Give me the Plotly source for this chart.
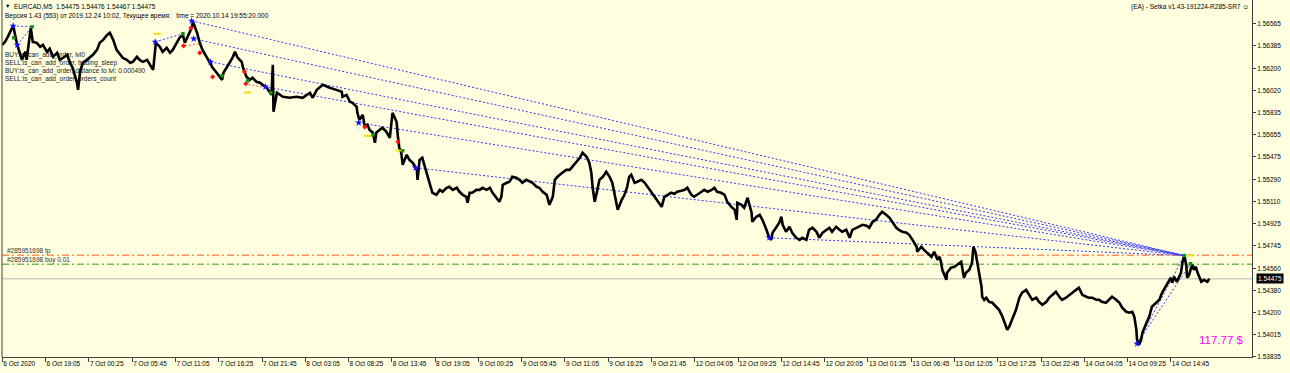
import plotly.graph_objects as go

# ---------------- data ----------------
# bar index (M5 bars from the first visible bar) and price of the traced path
bars = [
    0, 4, 8, 16, 22, 26, 29, 34, 36, 42,
    45, 51, 56, 60, 66, 70, 75, 81, 85, 90,
    96, 100, 104, 110, 112, 115, 119, 125, 130, 134,
    140, 144, 149, 155, 159, 164, 169, 174, 178, 184,
    189, 193, 199, 203, 208, 214, 218, 223, 226, 227,
    233, 237, 243, 248, 252, 258, 262, 267, 270, 274,
    280, 282, 288, 292, 296, 302, 307, 311, 317, 322,
    325, 327, 332, 336, 341, 344, 348, 354, 356, 361,
    366, 370, 376, 381, 385, 391, 395, 398, 400, 401,
    406, 415, 425, 435, 444, 455, 459, 465, 474, 484,
    494, 502, 503, 509, 514, 518, 524, 525, 528, 533,
    536, 540, 543, 548, 551, 553, 558, 562, 568, 573,
    577, 583, 585, 587, 590, 592, 598, 602, 607, 613,
    614, 617, 621, 627, 632, 636, 642, 647, 651, 657,
    661, 666, 672, 676, 681, 686, 688, 691, 695, 701,
    706, 710, 716, 721, 725, 731, 735, 738, 740, 746,
    750, 754, 760, 765, 769, 775, 780, 784, 790, 794,
    799, 805, 809, 814, 817, 821, 828, 834, 839, 843,
    849, 854, 858, 864, 868, 871, 873, 876, 879, 883,
    888, 893, 898, 902, 905, 910, 916, 920, 924, 927,
    930, 935, 939, 945, 950, 954, 960, 964, 969, 975,
    979, 984, 989, 994, 998, 1004, 1009, 1013, 1019, 1023,
    1028, 1034, 1038, 1043, 1049, 1053, 1057, 1063, 1068, 1072,
    1078, 1083, 1086, 1087, 1093, 1097, 1102, 1105, 1108, 1109,
    1115, 1120, 1124, 1130, 1134, 1137, 1139, 1145, 1149, 1152,
    1154, 1159, 1164, 1168, 1174, 1179, 1183, 1189, 1193, 1198,
    1204, 1208, 1213, 1219, 1223, 1227, 1233, 1238, 1242, 1248,
    1253, 1257, 1263, 1267, 1272, 1278, 1282, 1287, 1292, 1297,
    1301, 1307, 1312, 1316, 1322, 1326, 1331, 1337, 1341, 1346,
    1352, 1353, 1359, 1363, 1368, 1374, 1378, 1383, 1386, 1388,
    1390, 1393, 1396, 1397, 1403, 1408, 1412, 1418, 1420, 1422,
    1425, 1430, 1434, 1436, 1439, 1442, 1445, 1448, 1449, 1452,
    1455, 1459, 1464, 1470, 1474, 1479, 1485, 1486, 1489, 1493,
    1499, 1504, 1508, 1514, 1519, 1523, 1529, 1533, 1538, 1544,
    1548, 1553, 1558, 1563, 1567, 1573, 1578, 1582, 1588, 1592,
    1597, 1603, 1607, 1612, 1618, 1622, 1626, 1632, 1637, 1641,
    1647, 1652, 1656, 1662, 1666, 1671, 1674, 1677, 1678, 1681,
    1684, 1686, 1692, 1696, 1700, 1706, 1711, 1715, 1721, 1726,
    1728, 1730, 1733, 1737, 1743, 1745, 1748, 1751, 1752, 1755,
    1758, 1760, 1762, 1765, 1767, 1770, 1773, 1777, 1782, 1785,
]
prices = [
    1.56393, 1.56418, 1.56459, 1.56549, 1.56393, 1.56328, 1.56270, 1.56336, 1.56270, 1.56533,
    1.56418, 1.56410, 1.56377, 1.56393, 1.56336, 1.56361, 1.56295, 1.56328, 1.56270, 1.56287,
    1.56311, 1.56246, 1.56205, 1.56090, 1.56024, 1.56172, 1.56246, 1.56270, 1.56295, 1.56311,
    1.56352, 1.56410, 1.56434, 1.56475, 1.56492, 1.56434, 1.56352, 1.56311, 1.56287, 1.56270,
    1.56246, 1.56254, 1.56295, 1.56270, 1.56254, 1.56270, 1.56229, 1.56188, 1.56352, 1.56410,
    1.56377, 1.56336, 1.56369, 1.56328, 1.56352, 1.56410, 1.56451, 1.56475, 1.56410, 1.56459,
    1.56533, 1.56582, 1.56492, 1.56410, 1.56352, 1.56295, 1.56246, 1.56205, 1.56164, 1.56131,
    1.56106, 1.56164, 1.56205, 1.56246, 1.56295, 1.56336, 1.56287, 1.56254, 1.56205, 1.56131,
    1.56106, 1.56123, 1.56090, 1.56082, 1.56065, 1.56041, 1.56008, 1.55983, 1.56229, 1.55844,
    1.56000, 1.55967, 1.55959, 1.55967, 1.55959, 1.56000, 1.55959, 1.56024, 1.56065, 1.56041,
    1.56024, 1.56008, 1.55967, 1.55983, 1.55926, 1.55918, 1.55885, 1.55836, 1.55778, 1.55819,
    1.55721, 1.55737, 1.55696, 1.55672, 1.55590, 1.55672, 1.55696, 1.55713, 1.55680, 1.55631,
    1.55836, 1.55762, 1.55639, 1.55549, 1.55508, 1.55409, 1.55491, 1.55450, 1.55426, 1.55368,
    1.55286, 1.55450, 1.55467, 1.55344, 1.55245, 1.55180, 1.55163, 1.55204, 1.55188, 1.55221,
    1.55229, 1.55204, 1.55221, 1.55188, 1.55163, 1.55147, 1.55098, 1.55180, 1.55180, 1.55204,
    1.55204, 1.55221, 1.55204, 1.55221, 1.55180, 1.55139, 1.55106, 1.55147, 1.55245, 1.55262,
    1.55270, 1.55311, 1.55303, 1.55286, 1.55262, 1.55286, 1.55270, 1.55262, 1.55229, 1.55221,
    1.55188, 1.55163, 1.55081, 1.55147, 1.55286, 1.55311, 1.55344, 1.55368, 1.55368, 1.55393,
    1.55434, 1.55467, 1.55508, 1.55475, 1.55426, 1.55344, 1.55221, 1.55106, 1.55180, 1.55286,
    1.55311, 1.55352, 1.55311, 1.55262, 1.55180, 1.55040, 1.55122, 1.55163, 1.55229, 1.55311,
    1.55327, 1.55262, 1.55270, 1.55286, 1.55262, 1.55229, 1.55188, 1.55147, 1.55106, 1.55065,
    1.55147, 1.55163, 1.55180, 1.55172, 1.55188, 1.55196, 1.55204, 1.55221, 1.55163, 1.55147,
    1.55163, 1.55188, 1.55204, 1.55188, 1.55204, 1.55221, 1.55188, 1.55180, 1.55163, 1.55106,
    1.55065, 1.55040, 1.54958, 1.55098, 1.55081, 1.55057, 1.55139, 1.55081, 1.55016, 1.54942,
    1.54983, 1.54999, 1.54958, 1.54876, 1.54811, 1.54794, 1.54852, 1.54901, 1.54934, 1.54983,
    1.54917, 1.54860, 1.54901, 1.54852, 1.54811, 1.54794, 1.54811, 1.54794, 1.54876, 1.54893,
    1.54860, 1.54811, 1.54852, 1.54876, 1.54893, 1.54860, 1.54901, 1.54876, 1.54860, 1.54876,
    1.54811, 1.54876, 1.54893, 1.54901, 1.54917, 1.54909, 1.54893, 1.54942, 1.54958, 1.54999,
    1.55024, 1.54999, 1.54975, 1.54942, 1.54893, 1.54876, 1.54860, 1.54852, 1.54835, 1.54794,
    1.54737, 1.54696, 1.54737, 1.54712, 1.54688, 1.54655, 1.54696, 1.54630, 1.54655, 1.54614,
    1.54548, 1.54507, 1.54466, 1.54524, 1.54565, 1.54573, 1.54589, 1.54614, 1.54548, 1.54483,
    1.54524, 1.54548, 1.54606, 1.54737, 1.54696, 1.54606, 1.54491, 1.54409, 1.54327, 1.54302,
    1.54319, 1.54286, 1.54278, 1.54245, 1.54220, 1.54163, 1.54081, 1.54056, 1.54081, 1.54138,
    1.54220, 1.54319, 1.54360, 1.54384, 1.54343, 1.54302, 1.54319, 1.54286, 1.54261, 1.54286,
    1.54319, 1.54343, 1.54368, 1.54327, 1.54302, 1.54319, 1.54343, 1.54360, 1.54384, 1.54401,
    1.54343, 1.54327, 1.54319, 1.54319, 1.54302, 1.54302, 1.54286, 1.54278, 1.54302, 1.54327,
    1.54302, 1.54278, 1.54237, 1.54204, 1.54196, 1.54204, 1.54163, 1.54056, 1.53974, 1.53933,
    1.53974, 1.54032, 1.54114, 1.54163, 1.54245, 1.54278, 1.54302, 1.54360, 1.54425, 1.54466,
    1.54483, 1.54442, 1.54491, 1.54450, 1.54524, 1.54606, 1.54671, 1.54573, 1.54483, 1.54507,
    1.54565, 1.54589, 1.54548, 1.54573, 1.54532, 1.54491, 1.54450, 1.54466, 1.54450, 1.54475,
]
assert len(bars) == len(prices)

x_tick_bars = [0, 64, 128, 192, 256, 320, 384, 448, 512, 576, 640, 704, 768, 832,
               896, 960, 1024, 1088, 1152, 1216, 1280, 1344, 1408, 1472, 1536, 1600, 1664, 1728]
x_tick_labels = ["6 Oct 2020", "6 Oct 19:05", "7 Oct 00:25", "7 Oct 05:45", "7 Oct 11:05",
                 "7 Oct 16:25", "7 Oct 21:45", "8 Oct 03:05", "8 Oct 08:25", "8 Oct 13:45",
                 "8 Oct 19:05", "9 Oct 00:25", "9 Oct 05:45", "9 Oct 11:05", "9 Oct 16:25",
                 "9 Oct 21:45", "12 Oct 04:05", "12 Oct 09:25", "12 Oct 14:45", "12 Oct 20:05",
                 "13 Oct 01:25", "13 Oct 06:45", "13 Oct 12:05", "13 Oct 17:25", "13 Oct 22:45",
                 "14 Oct 04:05", "14 Oct 09:25", "14 Oct 14:45"]
y_tick_values = [1.53835, 1.54015, 1.54200, 1.54380, 1.54560, 1.54745, 1.54925, 1.55110,
                 1.55290, 1.55475, 1.55655, 1.55835, 1.56020, 1.56200, 1.56385, 1.56565]

# trade arrows
blue_bars = [16, 22, 226, 280, 283, 308, 389, 527, 611, 1134, 1678]
blue_prices = [1.56549, 1.56393, 1.56418, 1.56590, 1.56443, 1.56254, 1.56049, 1.55754, 1.55385, 1.54811, 1.53942]
red_bars = [279, 268, 292, 311, 358, 360, 536, 585]
red_prices = [1.56533, 1.56385, 1.56328, 1.56131, 1.56172, 1.56074, 1.55721, 1.55598]
green_bars = [17, 44, 267, 325, 363, 397, 548, 592, 1748, 1757]
green_prices = [1.56451, 1.56541, 1.56484, 1.56139, 1.56098, 1.56000, 1.55655, 1.55524, 1.54665, 1.54598]
yellow_bars = [229, 363, 540, 587, 1757]
yellow_prices = [1.56484, 1.56002, 1.55647, 1.55527, 1.54666]

# long grid lines: from these orders to the last close point
long_from_bars = [280, 283, 308, 389, 527, 611, 1134]
long_from_prices = [1.56590, 1.56443, 1.56254, 1.56049, 1.55754, 1.55385, 1.54811]
close_bar = 1748
close_price = 1.54665
rise_from_bar = 1678
rise_from_price = 1.53942
rise_to_bars = [1748, 1757]
rise_to_prices = [1.54665, 1.54598]
short_links = [((16, 1.56549), (44, 1.56541)), ((22, 1.56393), (44, 1.56541)),
               ((226, 1.56418), (267, 1.56484))]
red_links = [((270, 1.56385), (292, 1.56402)), ((358, 1.56074), (391, 1.56041))]

tp_price = 1.54667
buy_price = 1.54594
bid_price = 1.54475

info_lines = ["BUY:is_can_add_order, lvl0",
              "SELL:is_can_add_order, trading_sleep",
              "BUY:is_can_add_order, distance to lvl: 0.000490",
              "SELL:is_can_add_order, orders_count"]

# ---------------- figure ----------------
BG = "#FFFFE0"
FONT = "Liberation Sans, Arial, sans-serif"
AX = "#404040"
BLUE = "#3535FF"

fig = go.Figure()

# info text (drawn first so the price line passes over it)
fig.add_trace(go.Scatter(
    x=[4] * len(info_lines), y=[1.56303, 1.56238, 1.56172, 1.56106],
    mode="text", text=info_lines, textposition="middle right",
    textfont=dict(family=FONT, size=6.5, color="#202020"), hoverinfo="skip"))

# long dotted blue lines
lx, ly = [], []
for b, p in zip(long_from_bars, long_from_prices):
    lx += [b, close_bar, None]
    ly += [p, close_price, None]
for b, p in zip(rise_to_bars, rise_to_prices):
    lx += [rise_from_bar, b, None]
    ly += [rise_from_price, p, None]
for (b0, p0), (b1, p1) in short_links:
    lx += [b0, b1, None]
    ly += [p0, p1, None]
fig.add_trace(go.Scatter(x=lx, y=ly, mode="lines",
                         line=dict(color=BLUE, width=1, dash="2px,2px"), hoverinfo="skip"))

rx, ry = [], []
for (b0, p0), (b1, p1) in red_links:
    rx += [b0, b1, None]
    ry += [p0, p1, None]
fig.add_trace(go.Scatter(x=rx, y=ry, mode="lines",
                         line=dict(color="#FF5050", width=1, dash="2px,2px"), hoverinfo="skip"))

# price path
fig.add_trace(go.Scatter(x=bars, y=prices, mode="lines",
                         line=dict(color="black", width=2.6), hoverinfo="skip"))

# trade markers
fig.add_trace(go.Scatter(x=yellow_bars, y=yellow_prices, mode="markers",
                         marker=dict(symbol="line-ew", size=5, line=dict(color="#F0E000", width=2)),
                         hoverinfo="skip"))
fig.add_trace(go.Scatter(x=red_bars, y=red_prices, mode="markers",
                         marker=dict(symbol="diamond", size=4, color="#FF1010"), hoverinfo="skip"))
fig.add_trace(go.Scatter(x=green_bars, y=green_prices, mode="markers",
                         marker=dict(symbol="square", size=3.5, color="#109010"), hoverinfo="skip"))
fig.add_trace(go.Scatter(x=blue_bars, y=blue_prices, mode="markers",
                         marker=dict(symbol="star", size=5.5, color="#1010FF"), hoverinfo="skip"))

# horizontal levels
fig.add_hline(y=tp_price, line=dict(color="#FF9060", width=1.5, dash="7px,3px,2px,3px"), layer="below")
fig.add_hline(y=buy_price, line=dict(color="#74BE55", width=1.5, dash="7px,3px,2px,3px"), layer="below")
fig.add_hline(y=bid_price, line=dict(color="#CDCDC0", width=1.5), layer="below")

# left frame
fig.add_shape(type="line", xref="paper", yref="paper", x0=0, x1=0, y0=0, y1=1,
              line=dict(color=AX, width=1))

annots = []
def txt(text, xpx, ypx, size=6.5, color="black", anchor="left"):
    annots.append(dict(text=text, xref="paper", yref="paper", x=0, y=1,
                       xanchor=anchor, yanchor="middle", xshift=xpx - 2, yshift=-ypx,
                       showarrow=False, font=dict(family=FONT, size=size, color=color)))

txt("▼", 3, 6, size=5.5)
txt("EURCAD,M5  1.54475 1.54476 1.54467 1.54475", 12, 6)
txt("Версия 1.43 (553) от 2019.12.24 10:02, Текущее время:   time = 2020.10.14 19:55:20.000", 3, 16)
txt("#285951698 tp", 5, 251, color="#303030")
txt("#285951698 buy 0.01", 5, 260, color="#303030")
txt("117.77 $", 1197, 340, size=11.5, color="#FF00FF")
annots.append(dict(text="(EA) - Setka v1.43-191224-R285-SR7 ☺", xref="paper", yref="paper",
                   x=1, y=1, xanchor="right", yanchor="middle", xshift=-1, yshift=-7,
                   showarrow=False, font=dict(family=FONT, size=6.5, color="black")))
annots.append(dict(text="1.54475", xref="paper", yref="y", x=1, y=bid_price,
                   xanchor="left", yanchor="middle", xshift=4, showarrow=False,
                   bgcolor="black", borderpad=1,
                   font=dict(family=FONT, size=6.5, color="white")))

fig.update_layout(
    width=1290, height=373,
    margin=dict(l=2, r=38, t=0, b=16, pad=0),
    paper_bgcolor=BG, plot_bgcolor=BG, showlegend=False,
    annotations=annots,
    xaxis=dict(range=[-0.5, 1848], tickmode="array", tickvals=x_tick_bars, ticktext=x_tick_labels,
               ticks="outside", ticklen=4, tickwidth=1, tickcolor=AX, tickangle=0,
               ticklabelposition="outside right",
               showline=True, linecolor=AX, linewidth=1, showgrid=False, zeroline=False,
               tickfont=dict(family=FONT, size=6.5, color="black")),
    yaxis=dict(side="right", range=[1.53833, 1.56761], tickmode="array", tickvals=y_tick_values,
               ticktext=[f"{v:.5f}" for v in y_tick_values],
               ticks="outside", ticklen=3, tickwidth=1, tickcolor=AX,
               showline=True, linecolor=AX, linewidth=1, showgrid=False, zeroline=False,
               tickfont=dict(family=FONT, size=6.5, color="black")),
)

fig.write_html("out.html")
